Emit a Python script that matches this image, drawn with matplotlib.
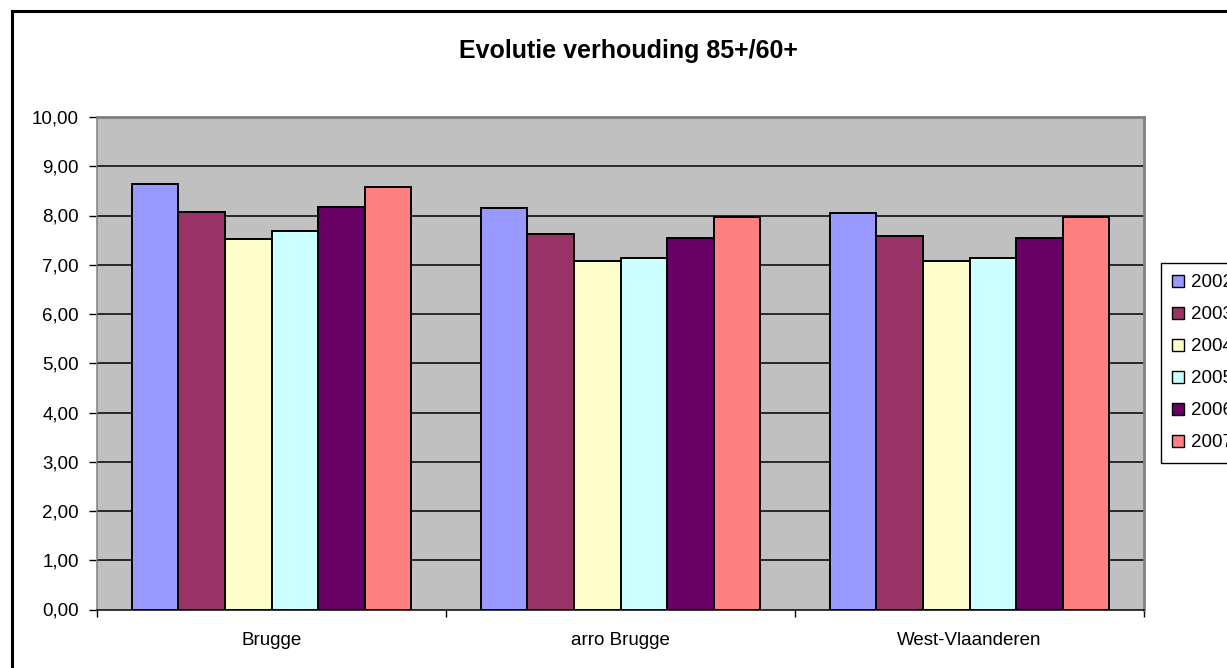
import matplotlib
matplotlib.use("Agg")
import matplotlib.pyplot as plt
import numpy as np
from matplotlib.patches import Rectangle

plt.rcParams['font.family'] = ['Liberation Sans', 'DejaVu Sans']

categories = ["Brugge", "arro Brugge", "West-Vlaanderen"]
years = ["2002", "2003", "2004", "2005", "2006", "2007"]
values = {
    "2002": [8.64, 8.16, 8.06],
    "2003": [8.07, 7.62, 7.59],
    "2004": [7.52, 7.08, 7.08],
    "2005": [7.68, 7.14, 7.14],
    "2006": [8.17, 7.55, 7.55],
    "2007": [8.58, 7.97, 7.97],
}
colors = ["#9999FF", "#993366", "#FFFFCC", "#CCFFFF", "#660066", "#FF8080"]
yticks = [0, 1, 2, 3, 4, 5, 6, 7, 8, 9, 10]

W, H = 1227, 668
fig = plt.figure(figsize=(W / 100, H / 100), dpi=100)
fig.patch.set_facecolor("white")

# outer chart frame (extends beyond the image on right/bottom)
fig.add_artist(Rectangle((11.5 / W, -0.1), 2, 1 - 11.5 / H + 0.1, transform=fig.transFigure,
                         fill=False, edgecolor="black", linewidth=2.2, clip_on=False))

left, right, top, bottom = 97, 1144, 117, 609.5
ax = fig.add_axes([left / W, 1 - bottom / H, (right - left) / W, (bottom - top) / H])
ax.set_facecolor("#C0C0C0")

n = len(years)
group = 0.8
bw = group / n
x = np.arange(len(categories))
for i, (yr, c) in enumerate(zip(years, colors)):
    ax.bar(x - group / 2 + bw * (i + 0.5), values[yr], width=bw, color=c,
           edgecolor="black", linewidth=1.4, label=yr, zorder=3)

ax.set_xlim(-0.5, len(categories) - 0.5)
ax.set_ylim(0, 10)
ax.set_yticks(yticks)
ax.set_yticklabels([f"{v:.2f}".replace(".", ",") for v in yticks], fontsize=13.5)
for v in yticks[1:]:
    ax.axhline(v, color="black", linewidth=1.1, zorder=1)

ax.set_xticks(x)
ax.set_xticklabels(categories, fontsize=13.5)
ax.tick_params(axis="x", length=0, pad=16)
ax.set_xticks(np.arange(len(categories) + 1) - 0.5, minor=True)
ax.tick_params(axis="x", which="minor", length=5, width=1, color="black")
ax.tick_params(axis="y", length=6, width=1, color="black", pad=7)

for s in ["top", "right"]:
    ax.spines[s].set_color("#808080")
    ax.spines[s].set_linewidth(2)
for s in ["left", "bottom"]:
    ax.spines[s].set_color("black")
    ax.spines[s].set_linewidth(1.1)
ax.spines["left"].set_color("#808080")

fig.text(628 / W, 1 - 51 / H, "Evolutie verhouding 85+/60+", ha="center", va="center",
         fontsize=18, fontweight="bold")

handles = [Rectangle((0, 0), 1, 1, facecolor=c, edgecolor="black", linewidth=1) for c in colors]
leg = fig.legend(handles, years, loc="upper left",
                 bbox_to_anchor=(1161 / W, 1 - 263 / H), fontsize=13.5,
                 frameon=True, fancybox=False, edgecolor="black", framealpha=1,
                 handlelength=0.6, handleheight=0.6, handletextpad=0.4,
                 labelspacing=0.8, borderpad=0.6, borderaxespad=0)
leg.get_frame().set_linewidth(1)

fig.savefig("out.png", dpi=100)
